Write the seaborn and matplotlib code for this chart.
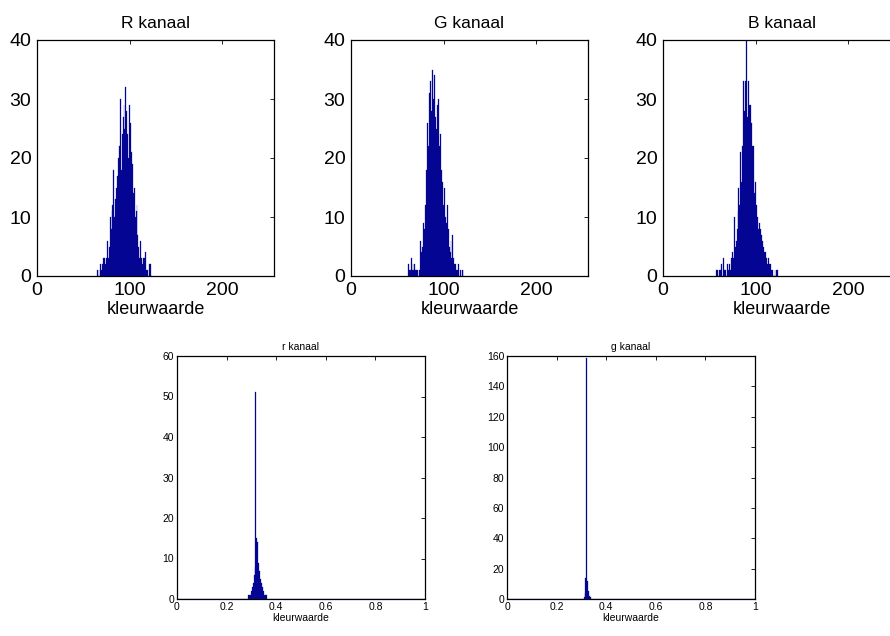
import numpy as np
import pandas as pd
import matplotlib
matplotlib.use("Agg")
import matplotlib.pyplot as plt
import seaborn as sns

# ---------------- data ----------------
R_values = [65, 66, 67, 68, 69, 70, 71, 72, 73, 74,
            75, 76, 77, 78, 79, 80, 81, 82, 83, 84,
            85, 86, 87, 88, 89, 90, 91, 92, 93, 94,
            95, 96, 97, 98, 99, 100, 101, 102, 103, 104,
            105, 106, 107, 108, 109, 110, 111, 112, 113, 114,
            115, 116, 117, 118, 119, 120, 121, 122, 123, 124]
R_counts = [1, 0, 1, 0, 2, 1, 2, 3, 3, 2,
            3, 6, 3, 5, 10, 8, 11, 12, 18, 10,
            13, 15, 17, 20, 22, 30, 18, 24, 27, 29,
            25, 32, 28, 24, 20, 29, 26, 21, 19, 14,
            15, 10, 11, 12, 7, 5, 3, 6, 3, 2,
            3, 3, 4, 1, 1, 0, 0, 2, 2, 0]

G_values = [62, 63, 64, 65, 66, 67, 68, 69, 70, 71,
            72, 73, 74, 75, 76, 77, 78, 79, 80, 81,
            82, 83, 84, 85, 86, 87, 88, 89, 90, 91,
            92, 93, 94, 95, 96, 97, 98, 99, 100, 101,
            102, 103, 104, 105, 106, 107, 108, 109, 110, 111,
            112, 113, 114, 115, 116, 117, 118, 119, 120, 121]
G_counts = [2, 1, 1, 3, 1, 2, 1, 2, 1, 1,
            1, 0, 1, 6, 4, 5, 9, 8, 12, 10,
            18, 26, 22, 31, 33, 28, 35, 30, 34, 27,
            25, 29, 26, 30, 22, 24, 18, 16, 12, 15,
            10, 9, 12, 8, 5, 4, 6, 3, 7, 3,
            2, 2, 1, 1, 2, 0, 1, 0, 1, 1]

B_values = [58, 59, 60, 61, 62, 63, 64, 65, 66, 67,
            68, 69, 70, 71, 72, 73, 74, 75, 76, 77,
            78, 79, 80, 81, 82, 83, 84, 85, 86, 87,
            88, 89, 90, 91, 92, 93, 94, 95, 96, 97,
            98, 99, 100, 101, 102, 103, 104, 105, 106, 107,
            108, 109, 110, 111, 112, 113, 114, 115, 116, 117,
            118, 119, 120, 121, 122, 123, 124]
B_counts = [1, 1, 0, 1, 1, 2, 0, 3, 1, 0,
            1, 0, 2, 1, 2, 1, 3, 4, 3, 10,
            5, 6, 8, 11, 15, 12, 21, 16, 22, 33,
            28, 33, 40, 27, 33, 29, 24, 29, 26, 22,
            22, 14, 16, 12, 10, 8, 9, 8, 7, 6,
            5, 5, 4, 4, 3, 2, 3, 2, 2, 1,
            1, 0, 0, 1, 0, 1, 1]

r_values = [0.2871, 0.2910, 0.2949, 0.2988, 0.3027, 0.3066, 0.3105, 0.3145,
            0.3184, 0.3223, 0.3262, 0.3301, 0.3340, 0.3379, 0.3418, 0.3457,
            0.3496, 0.3535, 0.3574, 0.3613]
r_counts = [1, 1, 1, 2, 3, 4, 6, 8,
            51, 15, 14, 9, 7, 5, 4, 3,
            2, 1, 1, 1]

g_values = [0.3105, 0.3145, 0.3184, 0.3223, 0.3262, 0.3301, 0.3340, 0.3379]
g_counts = [1, 4, 14, 159, 12, 5, 2, 1]

top_titles = ["R kanaal", "G kanaal", "B kanaal"]
bottom_titles = ["r kanaal", "g kanaal"]
xlabel_text = "kleurwaarde"
top_xticks = [0, 100, 200]
top_yticks = [0, 10, 20, 30, 40]
bottom_xticks = [0, 0.2, 0.4, 0.6, 0.8, 1]
bottom_xticklabels = ["0", "0.2", "0.4", "0.6", "0.8", "1"]
r_yticks = [0, 10, 20, 30, 40, 50, 60]
g_yticks = [0, 20, 40, 60, 80, 100, 120, 140, 160]

# ---------------- style ----------------
sns.set_theme(style="white")
plt.rcParams["font.family"] = ["Liberation Sans", "DejaVu Sans"]
plt.rcParams["text.color"] = "black"
plt.rcParams["axes.labelcolor"] = "black"
plt.rcParams["xtick.color"] = "black"
plt.rcParams["ytick.color"] = "black"

BAR = "#00008F"
EDGE = "#10109a"

W, H = 890, 636
fig = plt.figure(figsize=(W / 100, H / 100), dpi=100)
fig.patch.set_facecolor("white")


def px_axes(left, right, top, bottom):
    return fig.add_axes([left / W, (H - bottom) / H, (right - left) / W, (bottom - top) / H])


def style_axes(ax, labelsize):
    for s in ax.spines.values():
        s.set_visible(True)
        s.set_color("black")
        s.set_linewidth(0.9)
    ax.tick_params(direction="in", top=True, right=True, length=3, width=0.6,
                   colors="black", labelsize=labelsize, pad=4)
    ax.set_facecolor("white")
    ax.grid(False)


top_data = [(R_values, R_counts), (G_values, G_counts), (B_values, B_counts)]
top_lefts = [37, 351, 663]
for (vals, cnts), left, title in zip(top_data, top_lefts, top_titles):
    ax = px_axes(left, left + 237, 40, 276)
    df = pd.DataFrame({"v": vals, "c": cnts})
    sns.histplot(data=df, x="v", weights="c", discrete=True, ax=ax,
                 color=BAR, edgecolor=EDGE, linewidth=0.2, alpha=1)
    ax.set_xlim(0, 256)
    ax.set_ylim(0, 40)
    ax.set_xticks(top_xticks)
    ax.set_yticks(top_yticks)
    ax.set_ylabel("")
    ax.set_xlabel(xlabel_text, fontsize=13, labelpad=2, color="black")
    ax.set_title(title, fontsize=12.5, pad=9, color="black")
    style_axes(ax, 14)

bottom_data = [(r_values, r_counts, r_yticks, 60), (g_values, g_counts, g_yticks, 160)]
bottom_lefts = [177, 507]
for (vals, cnts, yt, ymax), left, title in zip(bottom_data, bottom_lefts, bottom_titles):
    ax = px_axes(left, left + 248, 356, 599)
    df = pd.DataFrame({"v": vals, "c": cnts})
    sns.histplot(data=df, x="v", weights="c", binwidth=1 / 256, binrange=(0, 1), ax=ax,
                 color=BAR, edgecolor=EDGE, linewidth=0.2, alpha=1)
    ax.set_xlim(0, 1)
    ax.set_ylim(0, ymax)
    ax.set_xticks(bottom_xticks)
    ax.set_xticklabels(bottom_xticklabels)
    ax.set_yticks(yt)
    ax.set_ylabel("")
    ax.set_xlabel(xlabel_text, fontsize=7.5, labelpad=1, color="black")
    ax.set_title(title, fontsize=7.5, pad=4, color="black")
    style_axes(ax, 7.5)
    ax.tick_params(pad=2)

fig.savefig("out.png", dpi=100, facecolor="white")
